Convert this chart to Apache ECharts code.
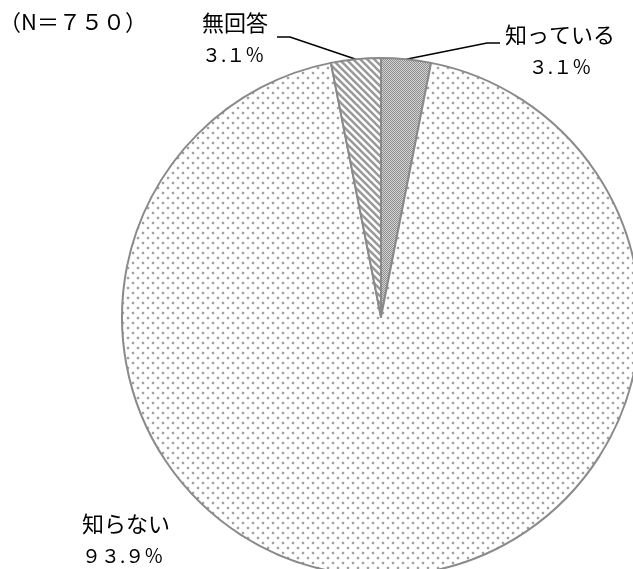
<!DOCTYPE html>
<html><head><meta charset="utf-8">
<script src="https://cdn.jsdelivr.net/npm/echarts@6/dist/echarts.min.js"></script>
<style>html,body{margin:0;padding:0;background:#fff}#c{width:633px;height:569px}</style>
</head><body><div id="c"></div>
<script>
// ---- data ----
const categories = ['知っている', '知らない', '無回答'];
const values = [3.1, 93.9, 3.1];
const sampleLabel = '（N＝７５０）';

// ---- label layout (positions only) ----
const labelPos = [
  {x: 505, y: 19, lineY: 43, lineFrom: 'left'},
  {x: 82, y: 508, lineY: null},
  {x: 202, y: 7, lineY: 37, lineFrom: 'right', nameW: 70}
];

function toFull(s) {
  return String(s).replace(/[0-9]/g, d => String.fromCharCode(d.charCodeAt(0) + 0xFEE0));
}

function blob(ctx, x, y) {
  ctx.fillStyle = '#ececec';
  ctx.fillRect(x, y - 1, 2, 4); ctx.fillRect(x - 1, y, 4, 2);
  ctx.fillStyle = '#a0a0a0';
  ctx.fillRect(x, y, 2, 2);
}

function makePattern(kind) {
  const c = document.createElement('canvas');
  let ctx;
  if (kind === 'sparse') {
    c.width = 10; c.height = 10; ctx = c.getContext('2d');
    ctx.fillStyle = '#fff'; ctx.fillRect(0, 0, 10, 10);
    blob(ctx, 2, 2); blob(ctx, 7, 7);
  } else if (kind === 'dense') {
    c.width = 2; c.height = 2; ctx = c.getContext('2d');
    ctx.fillStyle = '#d4d4d4'; ctx.fillRect(0, 0, 2, 2);
    ctx.fillStyle = '#8e8e8e';
    ctx.fillRect(0, 0, 1, 1); ctx.fillRect(1, 1, 1, 1);
  } else {
    c.width = 7; c.height = 7; ctx = c.getContext('2d');
    ctx.fillStyle = '#fff'; ctx.fillRect(0, 0, 7, 7);
    ctx.strokeStyle = '#9a9a9a'; ctx.lineWidth = 2.6;
    for (let k = -1; k <= 1; k++) {
      ctx.beginPath(); ctx.moveTo(k * 7 - 1, -1); ctx.lineTo(k * 7 + 8, 8); ctx.stroke();
    }
  }
  return c;
}
const patterns = [makePattern('dense'), makePattern('sparse'), makePattern('hatch')];

const CX = 381, CY = 317, R = 259;
const total = values.reduce((a, b) => a + b, 0);
function edgePoint(i) {
  let cum = 0;
  for (let k = 0; k < i; k++) cum += values[k];
  const a = (90 - (cum + values[i] / 2) / total * 360) * Math.PI / 180;
  return [CX + R * Math.cos(a), CY - R * Math.sin(a)];
}

const chart = echarts.init(document.getElementById('c'));
const jp = '"Noto Sans CJK JP", sans-serif';
chart.setOption({
  backgroundColor: '#fff',
  animation: false,
  title: {
    text: sampleLabel, left: -6, top: 6,
    textStyle: {fontSize: 22, fontWeight: 'normal', color: '#000', fontFamily: jp}
  },
  series: [{
    type: 'pie',
    center: [CX, CY],
    radius: R,
    startAngle: 90,
    clockwise: true,
    avoidLabelOverlap: false,
    emphasis: {disabled: true},
    itemStyle: {borderColor: '#8a8a8a', borderWidth: 2},
    label: {
      show: true,
      position: 'outside',
      formatter: p => (p.dataIndex === 0 ? '{n|' + p.name + '}\n{vc|' : '{n|' + p.name + '}\n{v|') + toFull(p.value) + '％}',
      rich: {
        n: {fontSize: 22, lineHeight: 32, color: '#000', fontFamily: jp},
        v: {fontSize: 19, lineHeight: 32, color: '#000', fontFamily: jp},
        vc: {fontSize: 19, lineHeight: 32, color: '#000', fontFamily: jp, align: 'center'}
      }
    },
    labelLine: {show: true, lineStyle: {color: '#000', width: 1.6}},
    labelLayout: function (params) {
      const i = params.dataIndex;
      const lp = labelPos[i];
      const res = {x: lp.x, y: lp.y, align: 'left', verticalAlign: 'top'};
      if (lp.lineY != null) {
        const p0 = edgePoint(i);
        if (lp.lineFrom === 'left') {
          res.labelLinePoints = [p0, [lp.x - 18, lp.lineY], [lp.x - 5, lp.lineY]];
        } else {
          const rx = lp.x + lp.nameW;
          res.labelLinePoints = [p0, [rx + 18, lp.lineY], [rx + 5, lp.lineY]];
        }
      }
      return res;
    },
    data: categories.map((n, i) => ({
      name: n,
      value: values[i],
      itemStyle: {color: {image: patterns[i], repeat: 'repeat'}},
      labelLine: {show: i !== 1}
    }))
  }]
});
</script>
</body></html>
